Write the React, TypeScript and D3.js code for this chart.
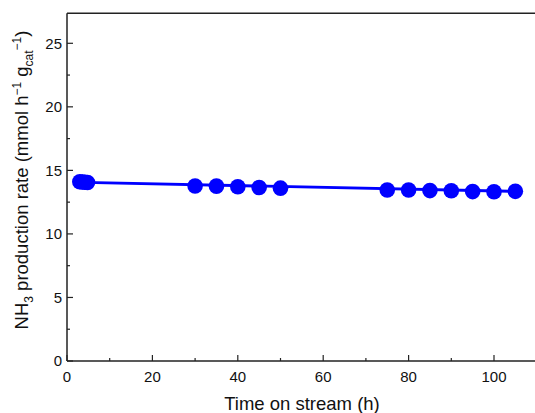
import React from "react";
import * as d3 from "d3";

const timeH = [3, 3.6, 4.2, 4.8, 30, 35, 40, 45, 50, 75, 80, 85, 90, 95, 100, 105];
const rate = [14.1, 14.08, 14.06, 14.05, 13.77, 13.76, 13.71, 13.65, 13.6, 13.46, 13.45, 13.41, 13.4, 13.33, 13.32, 13.35];
const fitX = [4, 105];
const fitY = [14.05, 13.35];
const xMajor = [0, 20, 40, 60, 80, 100];
const xMinor = [10, 30, 50, 70, 90];
const yMajor = [0, 5, 10, 15, 20, 25];
const yMinor = [2.5, 7.5, 12.5, 17.5, 22.5];

const W = 535, H = 413;
const x = d3.scaleLinear().domain([0, 110]).range([67, 536.7]);
const y = d3.scaleLinear().domain([0, 27.36]).range([361, 13.3]);
const BLUE = "#0000ff";
const FONT = "Arial, 'Liberation Sans', Helvetica, sans-serif";

export default function App() {
  const line = d3.line<number>().x((d, i) => x(fitX[i])).y((d) => y(d));
  const x0 = x(0), y0 = y(0);
  return (
    <svg width={W} height={H} style={{ position: "absolute", left: 0, top: 0, background: "#fff" }} fontFamily={FONT}>
      <rect width={W} height={H} fill="#fff" />
      {/* axes */}
      <line x1={x0} x2={W} y1={y0} y2={y0} stroke="#222" strokeWidth={1.5} />
      <line x1={x0} x2={x0} y1={y0} y2={y(27.36)} stroke="#222" strokeWidth={1.5} />
      <line x1={x0} x2={W} y1={y(27.36)} y2={y(27.36)} stroke="#222" strokeWidth={1.5} />
      {xMajor.map((t) => (
        <g key={"xm" + t}>
          <line x1={x(t)} x2={x(t)} y1={y0} y2={y0 - 6} stroke="#222" strokeWidth={1.2} />
          <text x={x(t)} y={y0 + 21} textAnchor="middle" fontSize={15} fill="#111">{t}</text>
        </g>
      ))}
      {xMinor.map((t) => (
        <line key={"xn" + t} x1={x(t)} x2={x(t)} y1={y0} y2={y0 - 3} stroke="#222" strokeWidth={1.2} />
      ))}
      {yMajor.map((t) => (
        <g key={"ym" + t}>
          <line x1={x0} x2={x0 + 6} y1={y(t)} y2={y(t)} stroke="#222" strokeWidth={1.2} />
          <text x={x0 - 5} y={y(t) + 5.3} textAnchor="end" fontSize={15} fill="#111">{t}</text>
        </g>
      ))}
      {yMinor.map((t) => (
        <line key={"yn" + t} x1={x0} x2={x0 + 3} y1={y(t)} y2={y(t)} stroke="#222" strokeWidth={1.2} />
      ))}
      {/* fit line */}
      <path d={line(fitY) || ""} fill="none" stroke={BLUE} strokeWidth={2.8} />
      {timeH.map((t, i) => (
        <circle key={"p" + i} cx={x(t)} cy={y(rate[i])} r={7.8} fill={BLUE} />
      ))}
      {/* titles */}
      <text x={302} y={410} textAnchor="middle" fontSize={18.5} fill="#111">Time on stream (h)</text>
      <text transform="translate(28,180) rotate(-90)" textAnchor="middle" fontSize={18.5} fill="#111">
        NH<tspan fontSize={12} dy={5}>3</tspan>
        <tspan dy={-5}> production rate (mmol h</tspan>
        <tspan fontSize={12} dy={-7}>−1</tspan>
        <tspan dy={7}> g</tspan>
        <tspan fontSize={12} dy={5}>cat</tspan>
        <tspan fontSize={12} dy={-12}>−1</tspan>
        <tspan dy={7}>)</tspan>
      </text>
    </svg>
  );
}
